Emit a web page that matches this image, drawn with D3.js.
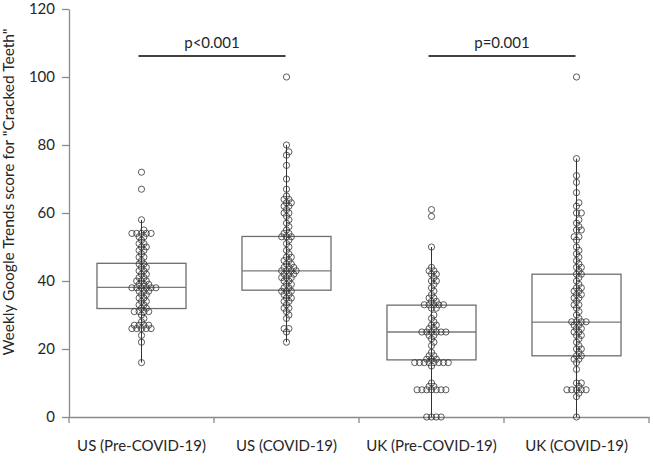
<!DOCTYPE html>
<html><head><meta charset="utf-8">
<script src="https://cdn.jsdelivr.net/npm/d3@7"></script>
<style>
html,body{margin:0;padding:0;background:#fff;}
svg{display:block;}
text{font-family:Lato,"Open Sans",sans-serif;fill:#262626;}
</style></head>
<body><svg id="chart" width="653" height="476"></svg>
<script>
const categories = ["US (Pre-COVID-19)", "US (COVID-19)", "UK (Pre-COVID-19)", "UK (COVID-19)"];
const yTicks = [0, 20, 40, 60, 80, 100, 120];
const yLabel = "Weekly Google Trends score for \"Cracked Teeth\"";

const usPre = [16,22,24,26,26,26,26,26,27,27,27,27,28,29,30,31,31,31,31,32,32,33,33,34,34,35,35,36,36,37,37,37,38,38,38,38,38,38,39,39,39,40,40,40,41,41,42,42,43,43,44,44,45,45,46,47,47,48,49,49,50,50,51,51,52,53,53,54,54,54,54,54,55,58,67,72];
const usCovid = [22,25,26,26,29,30,31,32,32,33,34,34,35,35,36,36,37,37,37,38,38,39,39,40,40,41,41,41,42,42,42,43,43,43,43,44,44,44,45,45,46,46,47,47,48,49,50,51,52,53,53,53,54,54,55,56,57,58,59,60,60,61,62,62,63,63,64,64,65,67,70,74,77,78,80,100];
const ukPre = [0,0,0,0,8,8,8,8,8,8,8,9,9,10,15,16,16,16,16,16,16,16,16,17,17,17,18,18,19,21,22,23,24,24,25,25,25,25,25,25,26,26,27,27,28,29,30,32,32,33,33,33,33,33,34,34,35,35,36,37,38,39,40,40,41,42,42,43,43,44,50,59,61];
const ukCovid = [0,6,7,8,8,8,8,8,9,10,10,14,16,17,17,18,18,19,20,20,21,22,23,24,24,25,25,26,26,27,27,28,28,28,28,29,30,31,32,33,33,34,35,35,36,36,37,37,38,38,39,40,41,42,42,43,44,44,45,46,47,48,49,50,52,53,53,55,55,56,57,58,60,60,62,63,66,69,71,76,100];
const seriesValues = [usPre, usCovid, ukPre, ukCovid];

// box statistics
const q1 = [31.9, 37.3, 16.8, 18.0];
const medians = [38.1, 43.0, 25.0, 27.9];
const q3 = [45.2, 53.1, 32.9, 42.0];
const whiskerLow = [16, 22, 0, 0];
const whiskerHigh = [58, 80, 50, 76];

const comparisons = [
  {from: 0, to: 1, label: "p<0.001"},
  {from: 2, to: 3, label: "p=0.001"}
];

const svg = d3.select("#chart");
const mLeft = 69, mRight = 649, mTop = 9, mBottom = 417;

const x = d3.scaleBand().domain(categories).range([mLeft, mRight]).padding(0);
const y = d3.scaleLinear().domain([0, 120]).range([mBottom, mTop]);
const axisColor = "#8a8a8a";

// y axis
const yAxis = svg.append("g").attr("transform", `translate(${mLeft},0)`)
  .call(d3.axisLeft(y).tickValues(yTicks).tickSize(7).tickPadding(7).tickSizeOuter(0));
yAxis.select(".domain").attr("stroke", axisColor).attr("stroke-width", 1.3);
yAxis.selectAll(".tick line").attr("stroke", axisColor).attr("stroke-width", 1.3);
yAxis.selectAll(".tick text").style("font-size", "15px").style("font-family", "Lato, sans-serif").attr("fill", "#333");

// x axis
const xAxis = svg.append("g").attr("transform", `translate(0,${mBottom})`)
  .call(d3.axisBottom(x).tickSize(0).tickPadding(23).tickSizeOuter(0));
xAxis.select(".domain").attr("stroke", axisColor).attr("stroke-width", 1.3);
xAxis.selectAll(".tick line").remove();
xAxis.selectAll(".tick text").style("font-size", "15px").style("font-family", "Lato, sans-serif").attr("fill", "#333");
const bounds = categories.map(c => x(c)).concat([x(categories[categories.length-1]) + x.bandwidth()]);
xAxis.selectAll("line.btick").data(bounds).enter().append("line")
  .attr("class", "btick").attr("x1", d => d).attr("x2", d => d).attr("y1", 0).attr("y2", 6)
  .attr("stroke", axisColor).attr("stroke-width", 1.3);

// y label
svg.append("text")
  .attr("transform", `translate(14,192) rotate(-90)`)
  .attr("text-anchor", "middle")
  .style("font-size", "15.5px")
  .attr("fill", "#333")
  .text(yLabel);

const boxW = x.bandwidth() * 0.614;
const cx = i => x(categories[i]) + x.bandwidth() / 2;

// simple swarm: place each point at the nearest free horizontal slot
function swarm(values, minDist, step) {
  const placed = [];
  return values.map(v => {
    const py = y(v);
    for (let k = 0; ; k++) {
      const off = Math.ceil(k / 2) * (k % 2 === 1 ? 1 : -1) * step;
      const ok = placed.every(p => (p.off - off) ** 2 + (p.py - py) ** 2 >= minDist * minDist);
      if (ok) { const p = {v, py, off}; placed.push(p); return p; }
    }
  });
}

const groups = svg.append("g");
categories.forEach((c, i) => {
  const g = groups.append("g");
  g.append("line").attr("x1", cx(i)).attr("x2", cx(i))
    .attr("y1", y(whiskerLow[i])).attr("y2", y(whiskerHigh[i]))
    .attr("stroke", "#333").attr("stroke-width", 1);
  g.append("rect").attr("x", cx(i) - boxW/2).attr("width", boxW)
    .attr("y", y(q3[i])).attr("height", y(q1[i]) - y(q3[i]))
    .attr("fill", "none").attr("stroke", "#6e6e6e").attr("stroke-width", 1.3);
  g.append("line").attr("x1", cx(i) - boxW/2).attr("x2", cx(i) + boxW/2)
    .attr("y1", y(medians[i])).attr("y2", y(medians[i]))
    .attr("stroke", "#7a7a7a").attr("stroke-width", 1.3);
  const pts = swarm(seriesValues[i], 3.6, 2.4);
  g.selectAll("circle").data(pts).enter().append("circle")
    .attr("cx", d => cx(i) + d.off)
    .attr("cy", d => y(d.v))
    .attr("r", 3.1)
    .attr("fill", "none").attr("stroke", "#333").attr("stroke-width", 0.8);
});

comparisons.forEach(cmp => {
  const x1 = cx(cmp.from) - 3, x2 = cx(cmp.to) - 1;
  svg.append("line").attr("x1", x1).attr("x2", x2).attr("y1", 56).attr("y2", 56)
    .attr("stroke", "#404040").attr("stroke-width", 2);
  svg.append("text").attr("x", (x1 + x2) / 2).attr("y", 48)
    .attr("text-anchor", "middle").style("font-size", "15px").attr("fill", "#333")
    .text(cmp.label);
});
</script></body></html>
